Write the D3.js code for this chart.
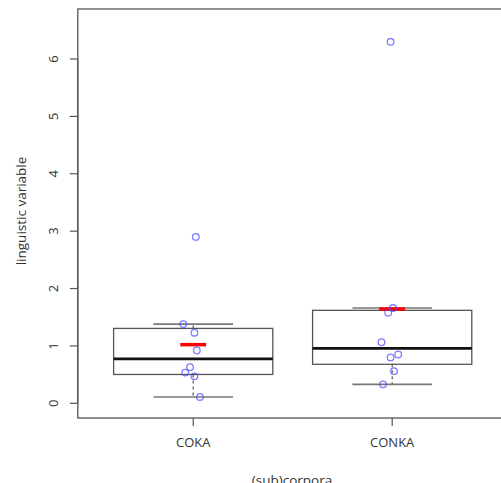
<!DOCTYPE html>
<html><head><meta charset="utf-8">
<script src="https://cdn.jsdelivr.net/npm/d3@7"></script>
<style>body{margin:0;background:#fff}text{font-family:"Open Sans","Noto Sans",sans-serif;fill:#333}</style>
</head><body><svg id="c" width="501" height="483"></svg>
<script>
const categories = ["COKA", "CONKA"];
const cokaValues = [2.90, 1.38, 1.23, 0.92, 0.63, 0.535, 0.47, 0.11];
const cokaJitter = [0.013, -0.05, 0.006, 0.018, -0.016, -0.04, 0.006, 0.034];
const conkaValues = [6.30, 1.66, 1.58, 1.064, 0.85, 0.80, 0.56, 0.33];
const conkaJitter = [-0.008, 0.004, -0.02, -0.054, 0.03, -0.008, 0.009, -0.046];
const yTicks = [0, 1, 2, 3, 4, 5, 6];
const seriesValues = [cokaValues, conkaValues];
const seriesJitter = [cokaJitter, conkaJitter];

const svg = d3.select("#c");
const x = d3.scaleLinear().domain([0.42, 2.58]).range([77.8, 507.6]);
const y = d3.scaleLinear().domain([0, 6]).range([403.3, 59]);

function hinge(sorted) {
  const n = sorted.length;
  const n4 = Math.floor((n + 3) / 2) / 2;
  const d = [1, n4, (n + 1) / 2, n + 1 - n4, n];
  return d.map(v => 0.5 * (sorted[Math.floor(v) - 1] + sorted[Math.ceil(v) - 1]));
}

const gray = "#555";
svg.append("rect").attr("x", x(0.42)).attr("y", 9).attr("width", x(2.58) - x(0.42)).attr("height", 418 - 9)
  .attr("fill", "none").attr("stroke", gray).attr("stroke-width", 1.3);

const yAxis = svg.append("g").attr("transform", `translate(${x(0.42)},0)`);
yAxis.append("line").attr("x1", 0).attr("x2", 0).attr("y1", y(0)).attr("y2", y(6)).attr("stroke", gray).attr("stroke-width", 1.2);
yTicks.forEach(t => {
  yAxis.append("line").attr("x1", -8).attr("x2", 0).attr("y1", y(t)).attr("y2", y(t)).attr("stroke", gray).attr("stroke-width", 1.2);
  yAxis.append("text").attr("transform", `translate(-20,${y(t)}) rotate(-90)`).attr("text-anchor", "middle")
    .attr("font-size", 13).text(t);
});
svg.append("text").attr("transform", `translate(26,211) rotate(-90)`).attr("text-anchor", "middle")
  .attr("font-size", 13.5).text("linguistic variable");

categories.forEach((c, i) => {
  const cx = x(i + 1);
  svg.append("line").attr("x1", cx).attr("x2", cx).attr("y1", 418).attr("y2", 426).attr("stroke", gray).attr("stroke-width", 1.2);
  svg.append("text").attr("x", cx).attr("y", 447).attr("text-anchor", "middle").attr("font-size", 13).text(c);
});
svg.append("text").attr("x", 292).attr("y", 485).attr("text-anchor", "middle").attr("font-size", 13.5).text("(sub)corpora");

seriesValues.forEach((vals, i) => {
  const s = vals.slice().sort(d3.ascending);
  const st = hinge(s);
  const q1 = st[1], med = st[2], q3 = st[3];
  const iqr = q3 - q1;
  const lo = d3.min(s.filter(v => v >= q1 - 1.5 * iqr));
  const hi = d3.max(s.filter(v => v <= q3 + 1.5 * iqr));
  const c = i + 1;
  const g = svg.append("g");
  g.append("line").attr("x1", x(c)).attr("x2", x(c)).attr("y1", y(q1)).attr("y2", y(lo))
    .attr("stroke", gray).attr("stroke-dasharray", "3,3").attr("stroke-width", 1.2);
  g.append("line").attr("x1", x(c)).attr("x2", x(c)).attr("y1", y(q3)).attr("y2", y(hi))
    .attr("stroke", gray).attr("stroke-dasharray", "3,3").attr("stroke-width", 1.2);
  [lo, hi].forEach(v => g.append("line").attr("x1", x(c - 0.2)).attr("x2", x(c + 0.2)).attr("y1", y(v)).attr("y2", y(v))
    .attr("stroke", "#777").attr("stroke-width", 1.6));
  g.append("rect").attr("x", x(c - 0.4)).attr("y", y(q3)).attr("width", x(c + 0.4) - x(c - 0.4)).attr("height", y(q1) - y(q3))
    .attr("fill", "white").attr("stroke", gray).attr("stroke-width", 1.3);
  g.append("line").attr("x1", x(c - 0.4)).attr("x2", x(c + 0.4)).attr("y1", y(med)).attr("y2", y(med))
    .attr("stroke", "#111").attr("stroke-width", 2.6);
  const m = d3.mean(vals);
  g.append("line").attr("x1", x(c - 0.065)).attr("x2", x(c + 0.065)).attr("y1", y(m)).attr("y2", y(m))
    .attr("stroke", "#ff0000").attr("stroke-width", 3.5);
  vals.forEach((v, k) => {
    g.append("circle").attr("cx", x(c + seriesJitter[i][k])).attr("cy", y(v)).attr("r", 3.3)
      .attr("fill", "none").attr("stroke", "rgba(70,70,255,0.7)").attr("stroke-width", 1.3);
  });
});
</script></body></html>
